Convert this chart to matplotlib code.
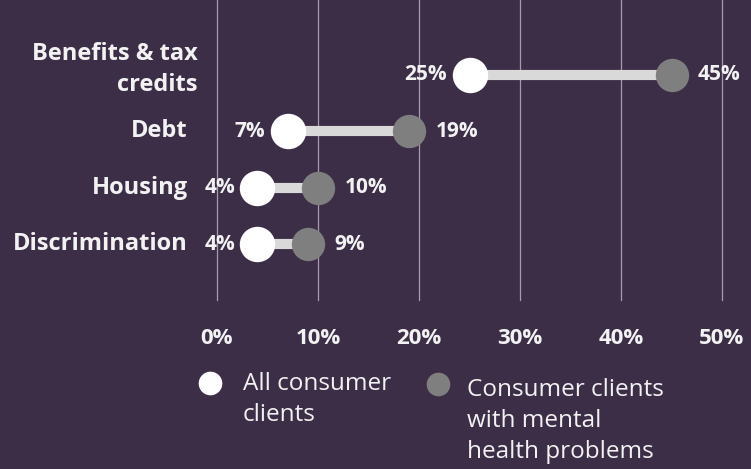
import matplotlib.pyplot as plt

# data
categories = ["Benefits & tax\ncredits", "Debt", "Housing", "Discrimination"]
all_clients = [25, 7, 4, 4]
mental_health = [45, 19, 10, 9]
ticks = [0, 10, 20, 30, 40, 50]
legend_labels = ["All consumer\nclients", "Consumer clients\nwith mental\nhealth problems"]

bg = "#3d2e48"
white = "#ffffff"
grey = "#7f7f7f"
bar = "#d9d9d9"
txt = "#f2f2f2"

plt.rcParams['font.family'] = ['Open Sans', 'DejaVu Sans']

fig = plt.figure(figsize=(7.51, 4.69), dpi=100, facecolor=bg)
ax = fig.add_axes([217 / 751, 1 - 300 / 469, 505 / 751, 300 / 469], facecolor=bg)

ys = list(range(len(categories)))
for y, a, m in zip(ys, all_clients, mental_health):
    ax.plot([a, m], [y, y], color=bar, lw=7.3, solid_capstyle='butt', zorder=2)
ax.scatter(mental_health, ys, s=24 ** 2, color=grey, zorder=3, linewidths=0)
ax.scatter(all_clients, ys, s=25.5 ** 2, color=white, zorder=4, linewidths=0)

for y, a, m in zip(ys, all_clients, mental_health):
    ax.annotate(f"{a}%", (a, y), xytext=(-16, 0), textcoords='offset points',
                ha='right', va='center', color=txt, fontsize=15, fontweight='bold')
    ax.annotate(f"{m}%", (m, y), xytext=(19, 0), textcoords='offset points',
                ha='left', va='center', color=txt, fontsize=15, fontweight='bold')
    lab = categories[y]
    two = '\n' in lab
    ax.annotate(lab, (0, y), xytext=(-14 if two else -21, 4 if two else 0),
                textcoords='offset points', ha='right', va='center', color=txt,
                fontsize=17, fontweight='bold', linespacing=1.42,
                xycoords=('axes fraction', 'data'))

ax.set_xlim(0, 50)
ax.set_ylim(3.99, -1.33)
ax.set_xticks(ticks)
ax.set_xticklabels([f"{t}%" for t in ticks], color=txt, fontsize=16, fontweight='bold')
ax.tick_params(axis='x', length=0, pad=20.5)
ax.set_yticks([])
ax.grid(axis='x', color='#a59bad', lw=0.9, zorder=0)
for gl in ax.get_xgridlines():
    gl.set_clip_on(False)
for s in ax.spines.values():
    s.set_visible(False)

# legend
fig.add_artist(plt.Line2D([210 / 751], [1 - 383 / 469], marker='o', ms=16, color=white,
                          mec=white, transform=fig.transFigure))
fig.add_artist(plt.Line2D([438 / 751], [1 - 384 / 469], marker='o', ms=16, color=grey,
                          mec=grey, transform=fig.transFigure))
fig.text(243 / 751, 1 - 372 / 469, legend_labels[0], ha='left', va='top', color=txt,
         fontsize=17.5, linespacing=1.4)
fig.text(467 / 751, 1 - 378 / 469, legend_labels[1], ha='left', va='top', color=txt,
         fontsize=17.5, linespacing=1.4)

fig.savefig("out.png", dpi=100, facecolor=bg)
